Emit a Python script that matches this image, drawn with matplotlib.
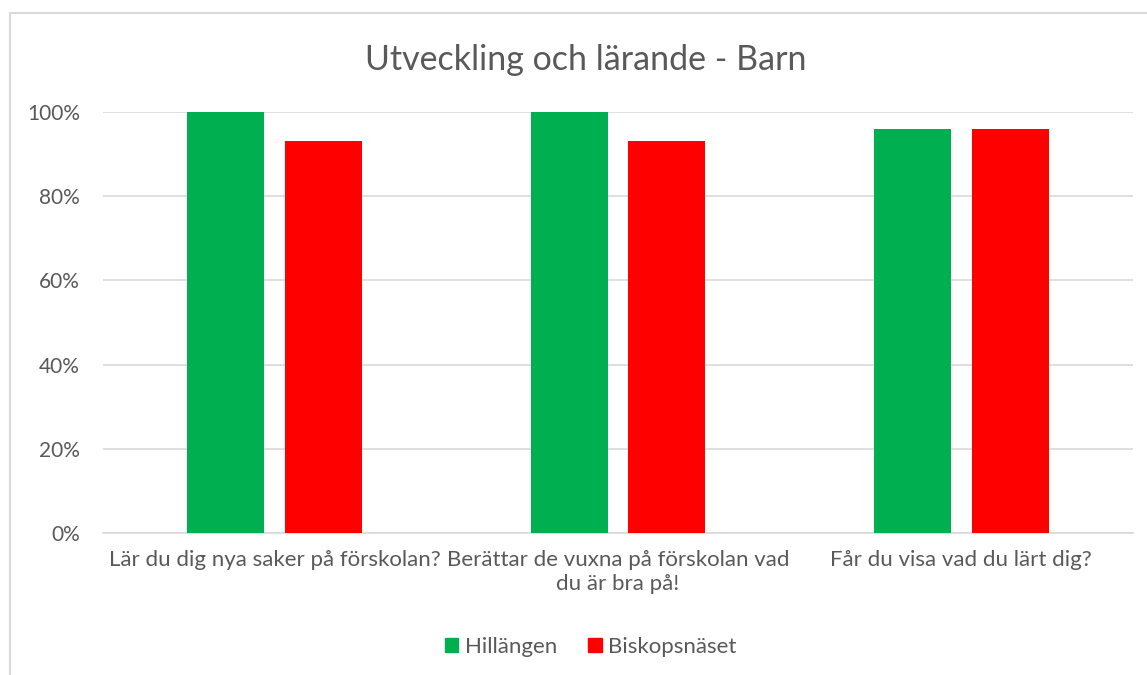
import matplotlib.pyplot as plt
import numpy as np
from matplotlib.lines import Line2D
from matplotlib.patches import Patch

categories = ["Lär du dig nya saker på förskolan?",
              "Berättar de vuxna på förskolan vad\ndu är bra på!",
              "Får du visa vad du lärt dig?"]
hillangen = [1.00, 1.00, 0.96]
biskopsnaset = [0.93, 0.93, 0.96]
series_names = ["Hillängen", "Biskopsnäset"]
colors = ["#00B050", "#FF0000"]
text_col = "#595959"

plt.rcParams['font.family'] = ['Lato', 'DejaVu Sans']

fig = plt.figure(figsize=(11.47, 6.75), dpi=100)
ax = fig.add_axes([103 / 1147, 1 - 533 / 675, 1030 / 1147, 421 / 675])

x = np.arange(len(categories))
w = 0.224
off = 0.142
ax.bar(x - off, hillangen, w, color=colors[0], zorder=3)
ax.bar(x + off, biskopsnaset, w, color=colors[1], zorder=3)

ax.set_xlim(-0.5, 2.5)
ax.set_ylim(0, 1)
ax.set_yticks(np.arange(0, 1.01, 0.2))
ax.set_yticklabels([f"{int(round(v * 100))}%" for v in np.arange(0, 1.01, 0.2)])
ax.yaxis.grid(True, color="#D9D9D9", linewidth=1.2, zorder=0)
for s in ["top", "right", "left"]:
    ax.spines[s].set_visible(False)
ax.spines["bottom"].set_color("#D9D9D9")
ax.spines["bottom"].set_linewidth(1.2)
ax.tick_params(axis="y", length=0, labelsize=15, colors=text_col, pad=16.5)
ax.tick_params(axis="x", length=0, labelsize=16, colors=text_col, pad=12)
ax.set_xticks(x)
ax.set_xticklabels(categories, linespacing=1.3)

fig.text(0.511, 1 - 60 / 675, "Utveckling och lärande - Barn", ha="center", va="center",
         fontsize=24.5, color=text_col)

handles = [Patch(color=c, label=n) for c, n in zip(colors, series_names)]
fig.legend(handles=handles, loc="center", bbox_to_anchor=(0.515, 1 - 647 / 675), ncol=2,
           frameon=False, fontsize=16, labelcolor=text_col, handlelength=0.6,
           handleheight=0.6, handletextpad=0.3, columnspacing=1.4)

# chart frame
fig.add_artist(Line2D([10 / 1147, 10 / 1147], [0, 1 - 13 / 675], transform=fig.transFigure,
                      color="#D9D9D9", linewidth=1.5))
fig.add_artist(Line2D([10 / 1147, 1], [1 - 13 / 675, 1 - 13 / 675], transform=fig.transFigure,
                      color="#D9D9D9", linewidth=1.5))

fig.savefig("out.png", dpi=100)
